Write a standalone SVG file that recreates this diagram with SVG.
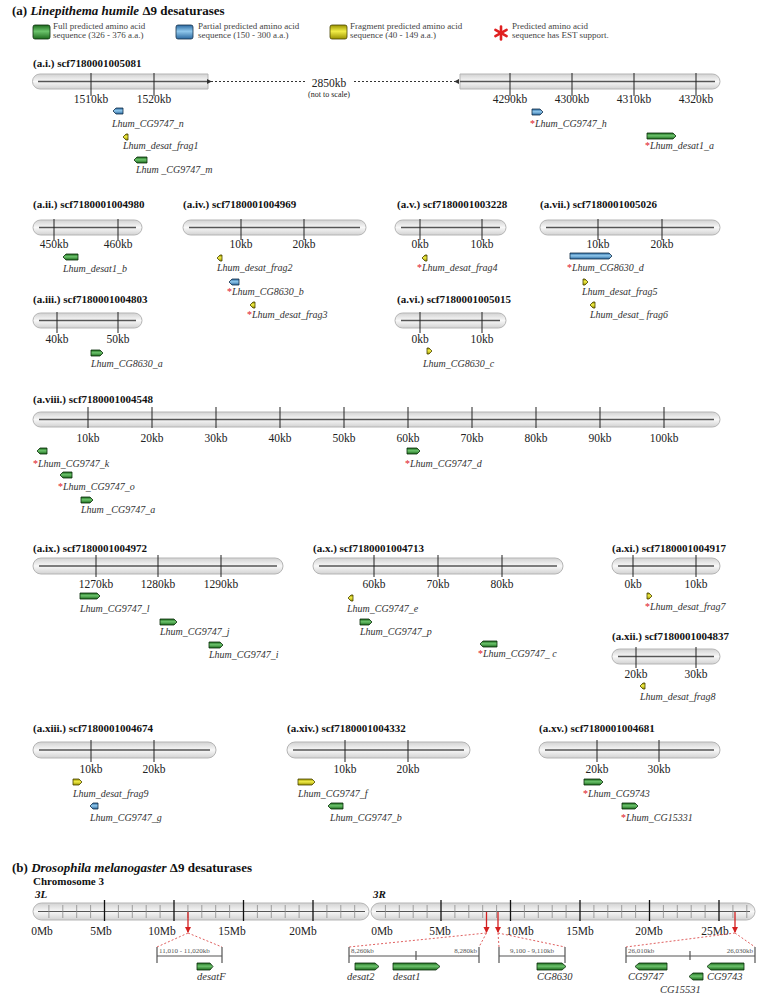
<svg xmlns="http://www.w3.org/2000/svg" width="757" height="1007" viewBox="0 0 757 1007">
<style>
.bg{fill:#fff}
.chr{fill:url(#cg);stroke:#b5b5b5;stroke-width:1}
.ax{stroke:#555;stroke-width:1.5;fill:none}
.tk{stroke:#222;stroke-width:1}
.mt{stroke:#8a8a8a;stroke-width:0.8}
.Mt{stroke:#111;stroke-width:1.3}
.tl{font-family:"Liberation Serif",serif;font-size:11.5px;text-anchor:middle;fill:#222}
.cl{font-family:"Liberation Serif",serif;font-size:11px;font-weight:bold;fill:#111}
.gl{font-family:"Liberation Serif",serif;font-size:10px;font-style:italic;fill:#333}
.bl{font-family:"Liberation Serif",serif;font-size:10.5px;font-style:italic;fill:#333}
.ast{fill:#e02020;font-style:normal}
.ttl{font-family:"Liberation Serif",serif;font-size:13px;font-weight:bold;fill:#111}
.lg{font-family:"Liberation Serif",serif;font-size:9px;fill:#444}
.gg{fill:url(#gG);stroke:#0b2d0b;stroke-width:0.8}
.gb{fill:url(#gB);stroke:#14304a;stroke-width:0.8}
.gy{fill:url(#gY);stroke:#4a4400;stroke-width:0.8}
.dl{stroke:#333;stroke-width:1;stroke-dasharray:2 2;fill:none}
.rd{stroke:#e06060;stroke-width:1;stroke-dasharray:2 2;fill:none}
.ra{stroke:#d42020;stroke-width:1.3;fill:none}
.sb{stroke:#555;stroke-width:1.2;fill:none}
.sl{font-family:"Liberation Serif",serif;font-size:7px;fill:#555}
</style>
<defs>
<linearGradient id="cg" x1="0" y1="0" x2="0" y2="1"><stop offset="0" stop-color="#d2d2d2"/><stop offset="0.5" stop-color="#f8f8f8"/><stop offset="1" stop-color="#d2d2d2"/></linearGradient>
<linearGradient id="gG" x1="0" y1="0" x2="0" y2="1"><stop offset="0" stop-color="#1d6a1d"/><stop offset="0.45" stop-color="#6cc46c"/><stop offset="1" stop-color="#1d6a1d"/></linearGradient>
<linearGradient id="gB" x1="0" y1="0" x2="0" y2="1"><stop offset="0" stop-color="#2a68a0"/><stop offset="0.45" stop-color="#90c8ec"/><stop offset="1" stop-color="#2a68a0"/></linearGradient>
<linearGradient id="gY" x1="0" y1="0" x2="0" y2="1"><stop offset="0" stop-color="#9a9200"/><stop offset="0.45" stop-color="#f2ee48"/><stop offset="1" stop-color="#9a9200"/></linearGradient>
<marker id="al" viewBox="0 0 6 6" refX="1" refY="3" markerWidth="5" markerHeight="5" orient="auto-start-reverse"><path d="M6,0 L0,3 L6,6 Z" fill="#333"/></marker>
<marker id="rh" viewBox="0 0 6 6" refX="5" refY="3" markerWidth="5" markerHeight="5" orient="auto"><path d="M0,0 L6,3 L0,6 Z" fill="#d42020"/></marker>
</defs>
<rect class="bg" x="0" y="0" width="757" height="1007"/>

<!-- Title and legend -->
<g id="title-a"><text class="ttl" x="12" y="15">(a) <tspan font-style="italic">Linepithema humile</tspan> Δ9 desaturases</text></g>
<g id="legend">
<rect x="33" y="25" width="17" height="14" rx="2" class="gg"/>
<text class="lg" x="53" y="28.5">Full predicted amino acid</text><text class="lg" x="53" y="37.5">sequence (326 - 376 a.a.)</text>
<rect x="176" y="25" width="17" height="14" rx="2" class="gb"/>
<text class="lg" x="198" y="28.5">Partial predicted amino acid</text><text class="lg" x="198" y="37.5">sequence (150 - 300 a.a.)</text>
<rect x="330" y="25" width="17" height="14" rx="2" class="gy"/>
<text class="lg" x="350" y="28.5">Fragment predicted amino acid</text><text class="lg" x="350" y="37.5">sequence (40 - 149 a.a.)</text>
<g stroke="#e02020" stroke-width="2.6" stroke-linecap="round"><line x1="501" y1="26.5" x2="501" y2="39.5"/><line x1="495.4" y1="29.8" x2="506.6" y2="36.2"/><line x1="495.4" y1="36.2" x2="506.6" y2="29.8"/></g>
<text class="lg" x="512" y="28.5">Predicted amino acid</text><text class="lg" x="512" y="37.5">sequence has EST support.</text>
</g>

<!-- a.i -->
<g id="a-i">
<text class="cl" x="33" y="67">(a.i.) scf7180001005081</text>
<path class="chr" d="M40,74 H208 V89 H40 A7.5,7.5 0 0 1 40,74 Z"/>
<path class="chr" d="M460,74 H712.5 A7.5,7.5 0 0 1 712.5,89 H460 Z"/>
<line class="ax" x1="38" y1="81.5" x2="208" y2="81.5"/>
<line class="ax" x1="460" y1="81.5" x2="715" y2="81.5"/>
<g class="tk"><line x1="91" y1="73" x2="91" y2="96"/><line x1="154" y1="73" x2="154" y2="96"/><line x1="510" y1="73" x2="510" y2="96"/><line x1="572" y1="73" x2="572" y2="96"/><line x1="634" y1="73" x2="634" y2="96"/><line x1="696" y1="73" x2="696" y2="96"/></g>
<text class="tl" x="91" y="103">1510kb</text><text class="tl" x="154" y="103">1520kb</text>
<text class="tl" x="510" y="103">4290kb</text><text class="tl" x="572" y="103">4300kb</text><text class="tl" x="634" y="103">4310kb</text><text class="tl" x="696" y="103">4320kb</text>
<path class="dl" d="M211,81.5 H305" marker-start="url(#al)"/>
<path class="dl" d="M354,81.5 H455" marker-end="url(#al)"/>
<text class="tl" x="329" y="87">2850kb</text>
<text class="tl" x="329" y="96.5" style="font-size:8px">(not to scale)</text>
<path class="gb" d="M123,108 H116 L113,111 L116,114 H123 Z"/>
<text class="gl" x="112" y="127">Lhum_CG9747_n</text>
<path class="gy" d="M128,134 H126 L123,137 L126,140 H128 Z"/>
<text class="gl" x="123" y="149">Lhum_desat_frag1</text>
<path class="gg" d="M147,157 H137 L134,160 L137,163 H147 Z"/>
<text class="gl" x="136" y="173">Lhum _CG9747_m</text>
<path class="gb" d="M532,109 H540 L543,112 L540,115 H532 Z"/>
<text class="gl" x="530" y="127"><tspan class="ast">*</tspan>Lhum_CG9747_h</text>
<path class="gg" d="M647,133 H673 L676,136 L673,139 H647 Z"/>
<text class="gl" x="645" y="149"><tspan class="ast">*</tspan>Lhum_desat1_a</text>
</g>

<!-- a.ii -->
<g id="a-ii">
<text class="cl" x="33" y="208">(a.ii.) scf7180001004980</text>
<rect class="chr" x="33" y="220" width="109" height="15" rx="7.5"/>
<line class="ax" x1="39" y1="227.5" x2="136" y2="227.5"/>
<g class="tk"><line x1="54" y1="219" x2="54" y2="240"/><line x1="118" y1="219" x2="118" y2="240"/></g>
<text class="tl" x="54" y="248">450kb</text><text class="tl" x="118" y="248">460kb</text>
<path class="gg" d="M78,254 H66 L63,257 L66,260 H78 Z"/>
<text class="gl" x="63" y="272">Lhum_desat1_b</text>
</g>

<!-- a.iii -->
<g id="a-iii">
<text class="cl" x="33" y="303">(a.iii.) scf7180001004803</text>
<rect class="chr" x="33" y="313" width="109" height="15" rx="7.5"/>
<line class="ax" x1="39" y1="320.5" x2="136" y2="320.5"/>
<g class="tk"><line x1="57" y1="312" x2="57" y2="333"/><line x1="118" y1="312" x2="118" y2="333"/></g>
<text class="tl" x="57" y="343">40kb</text><text class="tl" x="118" y="343">50kb</text>
<path class="gg" d="M91,350 H100 L103,353 L100,356 H91 Z"/>
<text class="gl" x="91" y="367">Lhum_CG8630_a</text>
</g>

<!-- a.iv -->
<g id="a-iv">
<text class="cl" x="183" y="208">(a.iv.) scf7180001004969</text>
<rect class="chr" x="183" y="220" width="183" height="15" rx="7.5"/>
<line class="ax" x1="189" y1="227.5" x2="360" y2="227.5"/>
<g class="tk"><line x1="241" y1="219" x2="241" y2="240"/><line x1="304" y1="219" x2="304" y2="240"/></g>
<text class="tl" x="241" y="248">10kb</text><text class="tl" x="304" y="248">20kb</text>
<path class="gy" d="M222,255 H220 L217,258 L220,261 H222 Z"/>
<text class="gl" x="217" y="271">Lhum_desat_frag2</text>
<path class="gb" d="M239,279 H232 L229,282 L232,285 H239 Z"/>
<text class="gl" x="227" y="295"><tspan class="ast">*</tspan>Lhum_CG8630_b</text>
<path class="gy" d="M255,302 H253 L250,305 L253,308 H255 Z"/>
<text class="gl" x="247" y="318"><tspan class="ast">*</tspan>Lhum_desat_frag3</text>
</g>

<!-- a.v -->
<g id="a-v">
<text class="cl" x="397" y="208">(a.v.) scf7180001003228</text>
<rect class="chr" x="395" y="220" width="111" height="15" rx="7.5"/>
<line class="ax" x1="401" y1="227.5" x2="500" y2="227.5"/>
<g class="tk"><line x1="420" y1="219" x2="420" y2="240"/><line x1="482" y1="219" x2="482" y2="240"/></g>
<text class="tl" x="420" y="248">0kb</text><text class="tl" x="482" y="248">10kb</text>
<path class="gy" d="M427,255 H425 L422,258 L425,261 H427 Z"/>
<text class="gl" x="417" y="271"><tspan class="ast">*</tspan>Lhum_desat_frag4</text>
</g>

<!-- a.vi -->
<g id="a-vi">
<text class="cl" x="397" y="303">(a.vi.) scf7180001005015</text>
<rect class="chr" x="395" y="313" width="111" height="15" rx="7.5"/>
<line class="ax" x1="401" y1="320.5" x2="500" y2="320.5"/>
<g class="tk"><line x1="420" y1="312" x2="420" y2="333"/><line x1="482" y1="312" x2="482" y2="333"/></g>
<text class="tl" x="420" y="343">0kb</text><text class="tl" x="482" y="343">10kb</text>
<path class="gy" d="M427,348 H429 L432,351 L429,354 H427 Z"/>
<text class="gl" x="423" y="367">Lhum_CG8630_c</text>
</g>

<!-- a.vii -->
<g id="a-vii">
<text class="cl" x="540" y="208">(a.vii.) scf7180001005026</text>
<rect class="chr" x="540" y="220" width="180" height="15" rx="7.5"/>
<line class="ax" x1="546" y1="227.5" x2="714" y2="227.5"/>
<g class="tk"><line x1="598" y1="219" x2="598" y2="240"/><line x1="662" y1="219" x2="662" y2="240"/></g>
<text class="tl" x="598" y="248">10kb</text><text class="tl" x="662" y="248">20kb</text>
<path class="gb" d="M570,253 H609 L612,256 L609,259 H570 Z"/>
<text class="gl" x="567" y="271"><tspan class="ast">*</tspan>Lhum_CG8630_d</text>
<path class="gy" d="M583,279 H585 L588,282 L585,285 H583 Z"/>
<text class="gl" x="582" y="295">Lhum_desat_frag5</text>
<path class="gy" d="M595,302 H593 L590,305 L593,308 H595 Z"/>
<text class="gl" x="590" y="318">Lhum_desat_ frag6</text>
</g>

<!-- a.viii -->
<g id="a-viii">
<text class="cl" x="33" y="403">(a.viii.) scf7180001004548</text>
<rect class="chr" x="33" y="412" width="687" height="15" rx="7.5"/>
<line class="ax" x1="39" y1="419.5" x2="714" y2="419.5"/>
<g class="tk"><line x1="88" y1="407" x2="88" y2="428"/><line x1="152" y1="407" x2="152" y2="428"/><line x1="216" y1="407" x2="216" y2="428"/><line x1="280" y1="407" x2="280" y2="428"/><line x1="344" y1="407" x2="344" y2="428"/><line x1="408" y1="407" x2="408" y2="428"/><line x1="472" y1="407" x2="472" y2="428"/><line x1="536" y1="407" x2="536" y2="428"/><line x1="600" y1="407" x2="600" y2="428"/><line x1="664" y1="407" x2="664" y2="428"/></g>
<text class="tl" x="88" y="442">10kb</text><text class="tl" x="152" y="442">20kb</text><text class="tl" x="216" y="442">30kb</text><text class="tl" x="280" y="442">40kb</text><text class="tl" x="344" y="442">50kb</text><text class="tl" x="408" y="442">60kb</text><text class="tl" x="472" y="442">70kb</text><text class="tl" x="536" y="442">80kb</text><text class="tl" x="600" y="442">90kb</text><text class="tl" x="664" y="442">100kb</text>
<path class="gg" d="M47,448 H40 L37,451 L40,454 H47 Z"/>
<text class="gl" x="33" y="467"><tspan class="ast">*</tspan>Lhum_CG9747_k</text>
<path class="gg" d="M72,472 H63 L60,475 L63,478 H72 Z"/>
<text class="gl" x="58" y="490"><tspan class="ast">*</tspan>Lhum_CG9747_o</text>
<path class="gg" d="M81,497 H90 L93,500 L90,503 H81 Z"/>
<text class="gl" x="81" y="513">Lhum _CG9747_a</text>
<path class="gg" d="M407,448 H417 L420,451 L417,454 H407 Z"/>
<text class="gl" x="405" y="467"><tspan class="ast">*</tspan>Lhum_CG9747_d</text>
</g>

<!-- a.ix -->
<g id="a-ix">
<text class="cl" x="33" y="552">(a.ix.) scf7180001004972</text>
<rect class="chr" x="33" y="558" width="250" height="16" rx="8"/>
<line class="ax" x1="39" y1="566" x2="277" y2="566"/>
<g class="tk"><line x1="96" y1="555" x2="96" y2="577"/><line x1="158" y1="555" x2="158" y2="577"/><line x1="221" y1="555" x2="221" y2="577"/></g>
<text class="tl" x="96" y="588">1270kb</text><text class="tl" x="158" y="588">1280kb</text><text class="tl" x="221" y="588">1290kb</text>
<path class="gg" d="M80,593 H97 L100,596 L97,599 H80 Z"/>
<text class="gl" x="80" y="612">Lhum_CG9747_l</text>
<path class="gg" d="M160,619 H174 L177,622 L174,625 H160 Z"/>
<text class="gl" x="160" y="635">Lhum_CG9747_j</text>
<path class="gg" d="M209,642 H220 L223,645 L220,648 H209 Z"/>
<text class="gl" x="209" y="658">Lhum_CG9747_i</text>
</g>

<!-- a.x -->
<g id="a-x">
<text class="cl" x="313" y="552">(a.x.) scf7180001004713</text>
<rect class="chr" x="313" y="558" width="250" height="16" rx="8"/>
<line class="ax" x1="319" y1="566" x2="557" y2="566"/>
<g class="tk"><line x1="374" y1="555" x2="374" y2="577"/><line x1="438" y1="555" x2="438" y2="577"/><line x1="502" y1="555" x2="502" y2="577"/></g>
<text class="tl" x="374" y="588">60kb</text><text class="tl" x="438" y="588">70kb</text><text class="tl" x="502" y="588">80kb</text>
<path class="gy" d="M353,595 H351 L348,598 L351,601 H353 Z"/>
<text class="gl" x="347" y="612">Lhum_CG9747_e</text>
<path class="gg" d="M360,619 H369 L372,622 L369,625 H360 Z"/>
<text class="gl" x="360" y="635">Lhum_CG9747_p</text>
<path class="gg" d="M497,641 H483 L480,644 L483,647 H497 Z"/>
<text class="gl" x="478" y="657"><tspan class="ast">*</tspan>Lhum_CG9747_ c</text>
</g>

<!-- a.xi -->
<g id="a-xi">
<text class="cl" x="612" y="552">(a.xi.) scf7180001004917</text>
<rect class="chr" x="612" y="558" width="108" height="16" rx="8"/>
<line class="ax" x1="618" y1="566" x2="714" y2="566"/>
<g class="tk"><line x1="633" y1="555" x2="633" y2="577"/><line x1="696" y1="555" x2="696" y2="577"/></g>
<text class="tl" x="633" y="588">0kb</text><text class="tl" x="696" y="588">10kb</text>
<path class="gy" d="M647,593 H649 L652,596 L649,599 H647 Z"/>
<text class="gl" x="645" y="610"><tspan class="ast">*</tspan>Lhum_desat_frag7</text>
</g>

<!-- a.xii -->
<g id="a-xii">
<text class="cl" x="612" y="640">(a.xii.) scf7180001004837</text>
<rect class="chr" x="612" y="649" width="108" height="15" rx="7.5"/>
<line class="ax" x1="618" y1="656.5" x2="714" y2="656.5"/>
<g class="tk"><line x1="636" y1="647" x2="636" y2="668"/><line x1="696" y1="647" x2="696" y2="668"/></g>
<text class="tl" x="636" y="678">20kb</text><text class="tl" x="696" y="678">30kb</text>
<path class="gy" d="M645,683 H643 L640,686 L643,689 H645 Z"/>
<text class="gl" x="640" y="700">Lhum_desat_frag8</text>
</g>

<!-- a.xiii -->
<g id="a-xiii">
<text class="cl" x="33" y="732">(a.xiii.) scf7180001004674</text>
<rect class="chr" x="33" y="742" width="183" height="16" rx="8"/>
<line class="ax" x1="39" y1="750" x2="210" y2="750"/>
<g class="tk"><line x1="91" y1="740" x2="91" y2="762"/><line x1="154" y1="740" x2="154" y2="762"/></g>
<text class="tl" x="91" y="773">10kb</text><text class="tl" x="154" y="773">20kb</text>
<path class="gy" d="M73,779 H79 L82,782 L79,785 H73 Z"/>
<text class="gl" x="73" y="797">Lhum_desat_frag9</text>
<path class="gb" d="M98,803 H93 L90,806 L93,809 H98 Z"/>
<text class="gl" x="90" y="821">Lhum_CG9747_g</text>
</g>

<!-- a.xiv -->
<g id="a-xiv">
<text class="cl" x="287" y="732">(a.xiv.) scf7180001004332</text>
<rect class="chr" x="287" y="742" width="183" height="16" rx="8"/>
<line class="ax" x1="293" y1="750" x2="464" y2="750"/>
<g class="tk"><line x1="345" y1="740" x2="345" y2="762"/><line x1="408" y1="740" x2="408" y2="762"/></g>
<text class="tl" x="345" y="773">10kb</text><text class="tl" x="408" y="773">20kb</text>
<path class="gy" d="M298,779 H312 L315,782 L312,785 H298 Z"/>
<text class="gl" x="298" y="797">Lhum_CG9747_f</text>
<path class="gg" d="M343,803 H331 L328,806 L331,809 H343 Z"/>
<text class="gl" x="330" y="821">Lhum_CG9747_b</text>
</g>

<!-- a.xv -->
<g id="a-xv">
<text class="cl" x="539" y="732">(a.xv.) scf7180001004681</text>
<rect class="chr" x="539" y="742" width="181" height="16" rx="8"/>
<line class="ax" x1="545" y1="750" x2="714" y2="750"/>
<g class="tk"><line x1="597" y1="740" x2="597" y2="762"/><line x1="659" y1="740" x2="659" y2="762"/></g>
<text class="tl" x="597" y="773">20kb</text><text class="tl" x="659" y="773">30kb</text>
<path class="gg" d="M584,779 H600 L603,782 L600,785 H584 Z"/>
<text class="gl" x="583" y="797"><tspan class="ast">*</tspan>Lhum_CG9743</text>
<path class="gg" d="M622,803 H635 L638,806 L635,809 H622 Z"/>
<text class="gl" x="621" y="821"><tspan class="ast">*</tspan>Lhum_CG15331</text>
</g>

<!-- (b) -->
<g id="title-b"><text class="ttl" x="12" y="872">(b) <tspan font-style="italic">Drosophila melanogaster</tspan> Δ9 desaturases</text>
<text class="cl" x="33" y="885">Chromosome 3</text></g>

<g id="chr3">
<text class="cl" x="35" y="898" font-style="italic">3L</text>
<text class="cl" x="373" y="898" font-style="italic">3R</text>
<rect class="chr" x="33" y="903" width="336" height="17" rx="8.5"/>
<rect class="chr" x="371" y="903" width="384" height="17" rx="8.5"/>
<line class="ax" x1="38" y1="911.5" x2="365" y2="911.5" style="stroke-width:1.2"/>
<line class="ax" x1="376" y1="911.5" x2="750" y2="911.5" style="stroke-width:1.2"/>
<g class="mt">
<line x1="48.9" y1="905" x2="48.9" y2="918"/><line x1="62.8" y1="905" x2="62.8" y2="918"/><line x1="76.7" y1="905" x2="76.7" y2="918"/><line x1="90.6" y1="905" x2="90.6" y2="918"/>
<line x1="118.4" y1="905" x2="118.4" y2="918"/><line x1="132.3" y1="905" x2="132.3" y2="918"/><line x1="146.2" y1="905" x2="146.2" y2="918"/><line x1="160.1" y1="905" x2="160.1" y2="918"/>
<line x1="187.9" y1="905" x2="187.9" y2="918"/><line x1="201.8" y1="905" x2="201.8" y2="918"/><line x1="215.7" y1="905" x2="215.7" y2="918"/><line x1="229.6" y1="905" x2="229.6" y2="918"/>
<line x1="257.4" y1="905" x2="257.4" y2="918"/><line x1="271.3" y1="905" x2="271.3" y2="918"/><line x1="285.2" y1="905" x2="285.2" y2="918"/><line x1="299.1" y1="905" x2="299.1" y2="918"/>
<line x1="326.9" y1="905" x2="326.9" y2="918"/><line x1="340.8" y1="905" x2="340.8" y2="918"/><line x1="354.7" y1="905" x2="354.7" y2="918"/>
<line x1="385.4" y1="905" x2="385.4" y2="918"/><line x1="399.3" y1="905" x2="399.3" y2="918"/><line x1="413.2" y1="905" x2="413.2" y2="918"/><line x1="427.1" y1="905" x2="427.1" y2="918"/>
<line x1="454.9" y1="905" x2="454.9" y2="918"/><line x1="468.8" y1="905" x2="468.8" y2="918"/><line x1="482.7" y1="905" x2="482.7" y2="918"/><line x1="496.6" y1="905" x2="496.6" y2="918"/>
<line x1="524.4" y1="905" x2="524.4" y2="918"/><line x1="538.3" y1="905" x2="538.3" y2="918"/><line x1="552.2" y1="905" x2="552.2" y2="918"/><line x1="566.1" y1="905" x2="566.1" y2="918"/>
<line x1="593.9" y1="905" x2="593.9" y2="918"/><line x1="607.8" y1="905" x2="607.8" y2="918"/><line x1="621.7" y1="905" x2="621.7" y2="918"/><line x1="635.6" y1="905" x2="635.6" y2="918"/>
<line x1="663.4" y1="905" x2="663.4" y2="918"/><line x1="677.3" y1="905" x2="677.3" y2="918"/><line x1="691.2" y1="905" x2="691.2" y2="918"/><line x1="705.1" y1="905" x2="705.1" y2="918"/>
<line x1="732.9" y1="905" x2="732.9" y2="918"/><line x1="746.8" y1="905" x2="746.8" y2="918"/>
</g>
<g class="Mt">
<line x1="104.5" y1="900" x2="104.5" y2="921"/><line x1="174" y1="900" x2="174" y2="921"/><line x1="243.5" y1="900" x2="243.5" y2="921"/><line x1="313" y1="900" x2="313" y2="921"/>
<line x1="441" y1="900" x2="441" y2="921"/><line x1="510.5" y1="900" x2="510.5" y2="921"/><line x1="580" y1="900" x2="580" y2="921"/><line x1="649.5" y1="900" x2="649.5" y2="921"/><line x1="719" y1="900" x2="719" y2="921"/>
</g>
<text class="tl" x="42" y="935">0Mb</text><text class="tl" x="101" y="935">5Mb</text><text class="tl" x="162" y="935">10Mb</text><text class="tl" x="232" y="935">15Mb</text><text class="tl" x="303" y="935">20Mb</text>
<text class="tl" x="382" y="935">0Mb</text><text class="tl" x="440" y="935">5Mb</text><text class="tl" x="520" y="935">10Mb</text><text class="tl" x="580" y="935">15Mb</text><text class="tl" x="649" y="935">20Mb</text><text class="tl" x="715" y="935">25Mb</text>
</g>

<g id="connectors">
<line class="ra" x1="188" y1="912" x2="188" y2="932" marker-end="url(#rh)"/>
<line class="ra" x1="486.5" y1="912" x2="486.5" y2="932" marker-end="url(#rh)"/>
<line class="ra" x1="498" y1="912" x2="498" y2="932" marker-end="url(#rh)"/>
<line class="ra" x1="735" y1="912" x2="735" y2="932" marker-end="url(#rh)"/>
<path class="rd" d="M188,933 L157,947 M188,933 L222,947"/>
<path class="rd" d="M486.5,933 L349,947 M486.5,933 L479,947"/>
<path class="rd" d="M498,933 L499,947 M498,933 L565,947"/>
<path class="rd" d="M735,933 L626,947 M735,933 L755,947"/>
</g>

<g id="zoom-desatF">
<path class="sb" d="M157,947 V963 M222,947 V963 M157,956 H222"/>
<text class="sl" x="159" y="953">11,010 - 11,020kb</text>
<path class="gg" d="M197,963 H210 L213,966.5 L210,970 H197 Z"/>
<text class="bl" x="197" y="980">desatF</text>
</g>
<g id="zoom-desat12">
<path class="sb" d="M349,947 V963 M479,947 V963 M349,956 H479 M416,951 V960"/>
<text class="sl" x="351" y="953">8,260kb</text>
<text class="sl" x="477" y="953" text-anchor="end">8,280kb</text>
<path class="gg" d="M355,963 H375 L379,966.5 L375,970 H355 Z"/>
<text class="bl" x="347" y="980">desat2</text>
<path class="gg" d="M393,963 H436 L440,966.5 L436,970 H393 Z"/>
<text class="bl" x="393" y="980">desat1</text>
</g>
<g id="zoom-CG8630">
<path class="sb" d="M499,947 V963 M565,947 V963 M499,956 H565"/>
<text class="sl" x="532" y="953" text-anchor="middle">9,100 - 9,110kb</text>
<path class="gg" d="M537,963 H562 L566,966.5 L562,970 H537 Z"/>
<text class="bl" x="537" y="980">CG8630</text>
</g>
<g id="zoom-CG9747">
<path class="sb" d="M626,947 V963 M755,947 V963 M626,956 H755 M690,951 V960"/>
<text class="sl" x="628" y="953">26,010kb</text>
<text class="sl" x="753" y="953" text-anchor="end">26,030kb</text>
<path class="gg" d="M667,963 H639 L635,966.5 L639,970 H667 Z"/>
<text class="bl" x="628" y="980">CG9747</text>
<path class="gg" d="M703,973 H693 L689,976.5 L693,980 H703 Z"/>
<text class="bl" x="660" y="993">CG15531</text>
<path class="gg" d="M744,963 H711 L707,966.5 L711,970 H744 Z"/>
<text class="bl" x="707" y="980">CG9743</text>
</g>
</svg>
